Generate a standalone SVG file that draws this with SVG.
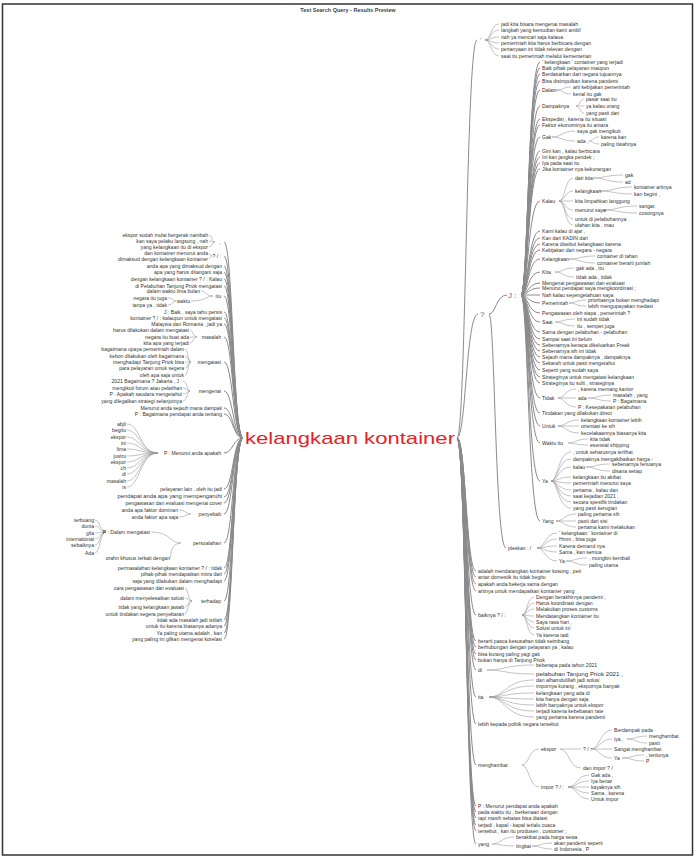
<svg xmlns="http://www.w3.org/2000/svg" width="699" height="858" viewBox="0 0 699 858">
<style>
text{font-family:"Liberation Sans",Arial,sans-serif;font-size:5.1px;fill:#333;dominant-baseline:central}
.e{text-anchor:end}
.c path{fill:none;stroke:#9a9a9a;stroke-width:0.6}
.c .r{stroke:#8a8a8a;stroke-width:1}
.root{font-size:17px;fill:#e3242b}
.q{font-size:8px;fill:#666}
.title{font-size:5.5px;font-weight:bold;fill:#444;text-anchor:middle}
</style>
<rect x="2.5" y="4" width="690" height="851" fill="#fff" stroke="#333" stroke-width="1.5"/>
<text class="title" x="348" y="10">Text Search Query - Results Preview</text>
<g class="c" id="connectors">
<path class="r" d="M457 438C466 438 466 40 477 40M457 438C466 438 466 314 478 314M457 438C466 438 466 571 476 571M457 438C466 438 466 577 476 577M457 438C466 438 466 584 476 584M457 438C466 438 466 591 476 591M457 438C466 438 466 615 476 615M457 438C466 438 466 641 476 641M457 438C466 438 466 647 476 647M457 438C466 438 466 654 476 654M457 438C466 438 466 660 476 660M457 438C466 438 466 670 476 670M457 438C466 438 466 697 476 697M457 438C466 438 466 724 476 724M457 438C466 438 466 765 476 765M457 438C466 438 466 806 476 806M457 438C466 438 466 812 476 812M457 438C466 438 466 818 476 818M457 438C466 438 466 825 476 825M457 438C466 438 466 831 476 831M457 438C466 438 466 844 476 844"/>
<path d="M485 40C491 40 491 24 499 24M485 40C491 40 491 30 499 30M485 40C491 40 491 37 499 37M485 40C491 40 491 43 499 43M485 40C491 40 491 49 499 49M485 40C491 40 491 56 499 56"/>
<path class="r" d="M489 314C496 314 496 295 507 295M489 314C495 314 495 548 506 548"/>
<path class="r" d="M521 295C528 295 528 62 540 62M521 295C528 295 528 68 540 68M521 295C528 295 528 74 540 74M521 295C528 295 528 81 540 81M521 295C528 295 528 90 540 90M521 295C528 295 528 106 540 106M521 295C528 295 528 119 540 119M521 295C528 295 528 125 540 125M521 295C528 295 528 137 540 137M521 295C528 295 528 151 540 151M521 295C528 295 528 157 540 157M521 295C528 295 528 163 540 163M521 295C528 295 528 169 540 169M521 295C528 295 528 201 540 201M521 295C528 295 528 231 540 231M521 295C528 295 528 238 540 238M521 295C528 295 528 244 540 244M521 295C528 295 528 250 540 250M521 295C528 295 528 259 540 259M521 295C528 295 528 272 540 272M521 295C528 295 528 283 540 283M521 295C528 295 528 288 540 288M521 295C528 295 528 295 540 295M521 295C528 295 528 303 540 303M521 295C528 295 528 313 540 313M521 295C528 295 528 322 540 322M521 295C528 295 528 332 540 332M521 295C528 295 528 339 540 339M521 295C528 295 528 345 540 345M521 295C528 295 528 351 540 351M521 295C528 295 528 357 540 357M521 295C528 295 528 363 540 363M521 295C528 295 528 370 540 370M521 295C528 295 528 377 540 377M521 295C528 295 528 383 540 383M521 295C528 295 528 398 540 398M521 295C528 295 528 413 540 413M521 295C528 295 528 426 540 426M521 295C528 295 528 443 540 443M521 295C528 295 528 481 540 481M521 295C528 295 528 521 540 521"/>
<path d="M557 90C563 90 563 87 571 87M557 90C563 90 563 94 571 94M576 106C580 106 580 99 584 99M576 106C580 106 580 106 584 106M576 106C580 106 580 113 584 113M552 137C562 137 562 131 575 131M552 137C562 137 562 141 575 141M589 141C593 141 593 137 599 137M589 141C593 141 593 144 599 144M559 201C565 201 565 178 573 178M559 201C565 201 565 191 573 191M559 201C565 201 565 201 573 201M559 201C565 201 565 210 573 210M559 201C565 201 565 219 573 219M559 201C565 201 565 225 573 225M593 178C606 178 606 175 623 175M593 178C606 178 606 182 623 182M599 191C614 191 614 187 632 187M599 191C614 191 614 194 632 194M603 210C618 210 618 206 637 206M603 210C618 210 618 213 637 213M569 259C580 259 580 256 595 256M569 259C580 259 580 263 595 263M555 272C563 272 563 268 574 268M555 272C563 272 563 277 574 277M569 303C576 303 576 300 586 300M569 303C576 303 576 306 586 306M555 322C563 322 563 319 575 319M555 322C563 322 563 326 575 326M558 398C565 398 565 389 576 389M558 398C565 398 565 398 576 398M558 398C565 398 565 407 576 407M588 398C598 398 598 395 611 395M588 398C598 398 598 401 611 401M558 426C566 426 566 420 579 420M558 426C566 426 566 426 579 426M558 426C566 426 566 433 579 433M568 443C576 443 576 439 588 439M568 443C576 443 576 445 588 445M551 481C558 481 558 452 571 452M551 481C558 481 558 459 571 459M551 481C558 481 558 467 571 467M551 481C558 481 558 477 571 477M551 481C558 481 558 483 571 483M551 481C558 481 558 490 571 490M551 481C558 481 558 496 571 496M551 481C558 481 558 502 571 502M551 481C558 481 558 508 571 508M586 467C596 467 596 464 610 464M586 467C596 467 596 471 610 471M556 521C564 521 564 514 576 514M556 521C564 521 564 521 576 521M556 521C564 521 564 527 576 527"/>
<path d="M537 548C545 548 545 533 557 533M537 548C545 548 545 539 557 539M537 548C545 548 545 546 557 546M537 548C545 548 545 552 557 552M537 548C545 548 545 561 557 561M566 561C575 561 575 558 587 558M566 561C575 561 575 565 587 565"/>
<path d="M522 615C527 615 527 597 534 597M522 615C527 615 527 603 534 603M522 615C527 615 527 609 534 609M522 615C527 615 527 616 534 616M522 615C527 615 527 622 534 622M522 615C527 615 527 628 534 628M522 615C527 615 527 635 534 635M487 670C505 670 505 665 534 665M487 670C505 670 505 674 534 674M489 697C505 697 505 680 534 680M489 697C505 697 505 686 534 686M489 697C505 697 505 693 534 693M489 697C505 697 505 699 534 699M489 697C505 697 505 705 534 705M489 697C505 697 505 711 534 711M489 697C505 697 505 717 534 717"/>
<path d="M522 765C529 765 529 749 539 749M522 765C529 765 529 787 539 787M560 749C569 749 569 749 581 749M560 749C569 749 569 768 581 768M591 749C600 749 600 730 612 730M591 749C600 749 600 739 612 739M591 749C600 749 600 749 612 749M591 749C600 749 600 758 612 758M627 739C636 739 636 736 647 736M627 739C636 739 636 743 647 743M622 758C632 758 632 755 644 755M622 758C632 758 632 761 644 761M568 787C577 787 577 775 589 775M568 787C577 787 577 781 589 781M568 787C577 787 577 787 589 787M568 787C577 787 577 793 589 793M568 787C577 787 577 799 589 799M492 844C501 844 501 837 514 837M492 844C501 844 501 846 514 846M532 846C541 846 541 843 552 843M532 846C541 846 541 849 552 849"/>
<path class="r" d="M243 438C233 438 233 242 224 242M243 438C233 438 233 256 224 256M243 438C233 438 233 266 224 266M243 438C233 438 233 272 224 272M243 438C233 438 233 279 224 279M243 438C233 438 233 286 224 286M243 438C233 438 233 296 224 296M243 438C233 438 233 312 224 312M243 438C233 438 233 318 224 318M243 438C233 438 233 324 224 324M243 438C233 438 233 337 224 337M243 438C233 438 233 362 224 362M243 438C233 438 233 391 224 391M243 438C233 438 233 408 224 408M243 438C233 438 233 414 224 414M243 438C233 438 233 453 224 453M243 438C233 438 233 489 224 489M243 438C233 438 233 497 224 497M243 438C233 438 233 503 224 503M243 438C233 438 233 514 224 514M243 438C233 438 233 543 224 543M243 438C233 438 233 568 224 568M243 438C233 438 233 574 224 574M243 438C233 438 233 581 224 581M243 438C233 438 233 601 224 601M243 438C233 438 233 620 224 620M243 438C233 438 233 626 224 626M243 438C233 438 233 633 224 633M243 438C233 438 233 639 224 639"/>
<path d="M215 242C212 242 212 235 209 235M215 242C212 242 212 241 209 241M215 242C212 242 212 247 209 247M212 256C210 256 210 253 209 253M212 256C210 256 210 259 209 259M213 296C206 296 206 291 201 291M213 296C206 296 206 301 191 301M176 301C173 301 173 298 168 298M176 301C173 301 173 305 168 305M197 337C193 337 193 330 190 330M197 337C193 337 193 337 190 337M197 337C193 337 193 343 190 343M191 362C188 362 188 349 185 349M191 362C188 362 188 356 185 356M191 362C188 362 188 362 185 362M191 362C188 362 188 368 185 368M191 362C188 362 188 375 185 375M190 391C187 391 187 381 183 381M190 391C187 391 187 388 183 388M190 391C187 391 187 394 183 394M190 391C187 391 187 401 183 401M158 453C140 453 140 424 127 424M158 453C140 453 140 430 127 430M158 453C140 453 140 437 127 437M158 453C140 453 140 443 127 443M158 453C140 453 140 449 127 449M158 453C140 453 140 456 127 456M158 453C140 453 140 462 127 462M158 453C140 453 140 468 127 468M158 453C140 453 140 474 127 474M158 453C140 453 140 481 127 481M158 453C140 453 140 487 127 487M191 514C186 514 186 510 179 510M191 514C186 514 186 517 179 517M181 543C170 543 170 532 151 532M181 543C170 543 170 558 171 558M106 532C100 532 100 520 95 520M106 532C100 532 100 526 95 526M106 532C100 532 100 533 95 533M106 532C100 532 100 539 95 539M106 532C100 532 100 545 95 545M106 532C100 532 100 553 95 553M192 601C188 601 188 588 185 588M192 601C188 601 188 598 185 598M192 601C188 601 188 607 185 607M192 601C188 601 188 614 185 614"/>
</g>
<g id="root"><text class="root" x="245" y="438" textLength="210" lengthAdjust="spacingAndGlyphs">kelangkaan kontainer</text></g>
<g id="right-top">
<text x="480" y="40">'</text>
<text x="501" y="24">jadi kita bisara mengenai masalah</text>
<text x="501" y="30">langkah yang kemudian kami ambil</text>
<text x="501" y="37">nah ya mencari saja kalaua</text>
<text x="501" y="43">pemerintah kita harus berbicara dengan</text>
<text x="501" y="49">pertanyaan ini tidak relevan dengan</text>
<text x="501" y="56">saat itu pemerintah melalui kementerian</text>
</g>
<g id="q"><text class="q" x="480" y="314">?</text>
<text class="q" x="508" y="295">J :</text>
<text x="508" y="548">pleskan : /</text></g>
<g id="j-children">
<text x="542" y="62">' kelangkaan ' container yang terjadi</text>
<text x="542" y="68">Baik pihak pelayaran maupun</text>
<text x="542" y="74">Berdasarkan dari negara tujuannya</text>
<text x="542" y="81">Bisa disimpulkan karena pandemi</text>
<text x="542" y="90">Dalam</text>
<text x="573" y="87">arti kebijakan pemerintah</text>
<text x="573" y="94">kenal itu gak</text>
<text x="542" y="106">Dampaknya</text>
<text x="586" y="99">pasar saat itu</text>
<text x="586" y="106">ya kalau orang</text>
<text x="586" y="113">yang pasti dari</text>
<text x="542" y="119">Ekspedisi , karena itu situasi</text>
<text x="542" y="125">Faktor ekonominya itu antara</text>
<text x="542" y="137">Gak</text>
<text x="577" y="131">saya gak mengikuti</text>
<text x="577" y="141">ada ,</text>
<text x="601" y="137">karena kan</text>
<text x="601" y="144">paling tiwahnya</text>
<text x="542" y="151">Gini kan , kalau berbicara</text>
<text x="542" y="157">Ini kan jangka pendek ;</text>
<text x="542" y="163">Iya pada saat itu</text>
<text x="542" y="169">Jika kontainer nya kekurangan</text>
<text x="542" y="201">Kalau</text>
<text x="575" y="178">dari kita</text>
<text x="625" y="175">gak</text>
<text x="625" y="182">ad</text>
<text x="575" y="191">kelangkaan</text>
<text x="634" y="187">kontainer artinya</text>
<text x="634" y="194">kan begini ,</text>
<text x="575" y="201">kita limpahkan langgung</text>
<text x="575" y="210">menurut saya</text>
<text x="639" y="206">sangat</text>
<text x="639" y="213">cosongnya</text>
<text x="575" y="219">untuk di pelabuhannya</text>
<text x="575" y="225">ulahan kita , mau</text>
<text x="542" y="231">Kami kalau di ajar ,</text>
<text x="542" y="238">Kan dari KADIN dari</text>
<text x="542" y="244">Karena disebut kelangkaan karena</text>
<text x="542" y="250">Kebijakan dari negara - negara</text>
<text x="542" y="259">Kelangkaan</text>
<text x="597" y="256">container di tahan</text>
<text x="597" y="263">container berarti jumlah</text>
<text x="542" y="272">Kita</text>
<text x="576" y="268">gak ada , itu</text>
<text x="576" y="277">tidak ada , tidak</text>
<text x="542" y="283">Mengenai pengawasan dan evaluasi</text>
<text x="542" y="288">Menurut pendapat saya mengkoordinasi ;</text>
<text x="542" y="295">Nah kalau seyengetahuan saya</text>
<text x="542" y="303">Pemerintah</text>
<text x="588" y="300">prioritasnya bukan menghadapi</text>
<text x="588" y="306">lebih mengupayakan medasi</text>
<text x="542" y="313">Pengawasan oleh siapa , pemerintah ?</text>
<text x="542" y="322">Saat</text>
<text x="577" y="319">ini sudah tidak</text>
<text x="577" y="326">itu , sempet juga</text>
<text x="542" y="332">Sama dengan pelabuhan - pelabuhan</text>
<text x="542" y="339">Sampai saat ini belum</text>
<text x="542" y="345">Sebenarnya kenapa dikeluarkan Freak</text>
<text x="542" y="351">Sebenarnya sih ini tidak</text>
<text x="542" y="357">Sejauh mana dampaknya , dampaknya</text>
<text x="542" y="363">Sekarah untuk pasti mengetahui</text>
<text x="542" y="370">Seperti yang sudah saya</text>
<text x="542" y="377">Strateginya untuk mengatasi kelangkaan</text>
<text x="542" y="383">Strateginya itu sulit , strateginya</text>
<text x="542" y="398">Tidak</text>
<text x="578" y="389">, karena memang kantor</text>
<text x="578" y="398">ada</text>
<text x="613" y="395">masalah , yang</text>
<text x="613" y="401">P : Bagaimana</text>
<text x="578" y="407">P : Kesepakatan pelabuhan</text>
<text x="542" y="413">Tindakan yang dilakukan direct</text>
<text x="542" y="426">Untuk</text>
<text x="581" y="420">kelangkaan kontainer lebih</text>
<text x="581" y="426">orientasi ke sih</text>
<text x="581" y="433">kecelakaannya biasanya kita</text>
<text x="542" y="443">Waktu itu</text>
<text x="590" y="439">kita tidak</text>
<text x="590" y="445">esensial shipping</text>
<text x="542" y="481">Ya</text>
<text x="573" y="452">, untuk seharusnya terlihat</text>
<text x="573" y="459">dampaknya mengakibatkan harga -</text>
<text x="573" y="467">kalau</text>
<text x="612" y="464">sebenarnya fenuanya</text>
<text x="612" y="471">disana setiap</text>
<text x="573" y="477">kelangkaan itu akibat</text>
<text x="573" y="483">pemerintah menurut saya</text>
<text x="573" y="490">pertama , kalau dan</text>
<text x="573" y="496">saat kejadian 2021 ,</text>
<text x="573" y="502">secara spesifik tindakan</text>
<text x="573" y="508">yang pasti kerugian</text>
<text x="542" y="521">Yang</text>
<text x="578" y="514">paling pertama sih</text>
<text x="578" y="521">pasti dari sisi</text>
<text x="578" y="527">pertama kami melakukan</text>
</g>
<g id="pleskan-children">
<text x="559" y="533">' kelangkaan ' kontainer di</text>
<text x="559" y="539">Hmm , bisa juga</text>
<text x="559" y="546">Karena demand nya</text>
<text x="559" y="552">Sama , kan semua</text>
<text x="559" y="561">Ya</text>
<text x="589" y="558">, mungkin kembali</text>
<text x="589" y="565">paling utama</text>
</g>
<g id="right-bottom">
<text x="478" y="571">adalah mendatangkan kontainer kosong , peti</text>
<text x="478" y="577">antar domestik itu tidak begitu</text>
<text x="478" y="584">apakah anda bekerja sama dengan</text>
<text x="478" y="591">artinya untuk mendapatkan kontainer yang</text>
<text x="478" y="615">baiknya ? / :</text>
<text x="536" y="597">Dengan berakhirnya pandemi ,</text>
<text x="536" y="603">Harus koordinasi dengan</text>
<text x="536" y="609">Melakukan proses customs</text>
<text x="536" y="616">Mendatangkan kontainer itu</text>
<text x="536" y="622">Saya rasa hari ,</text>
<text x="536" y="628">Solusi untuk ini</text>
<text x="536" y="635">Ya karena tadi</text>
<text x="478" y="641">berarti pasca kesusahan tidak seimbang</text>
<text x="478" y="647">berhubungan dengan pelayaran ya , kalau</text>
<text x="478" y="654">bisa kurang paling yagi gak</text>
<text x="478" y="660">bukan hanya di Tanjung Priok</text>
<text x="478" y="670">di</text>
<text x="536" y="665">beberapa pada tahun 2021</text>
<text x="536" y="673" style="font-size:6.2px">pelabuhan Tanjung Priok 2021 ,</text>
<text x="478" y="697">ita</text>
<text x="536" y="680">dan alhamdulillah jadi solusi</text>
<text x="536" y="686">impornya kurang , ekspornya banyak</text>
<text x="536" y="693">kelangkaan yang ada di</text>
<text x="536" y="699">kita hanya dengan saja</text>
<text x="536" y="705">lebih banyaknya untuk ekspor</text>
<text x="536" y="711">terjadi karena kebebasan rate</text>
<text x="536" y="717">yang pertama karena pandemi</text>
<text x="478" y="724">lebih kepada politik negara tersebut</text>
<text x="478" y="765">menghambat</text>
<text x="541" y="749">ekspor</text>
<text x="583" y="749">? / :</text>
<text x="614" y="730">Berdampak pada</text>
<text x="614" y="739">iya ,</text>
<text x="649" y="736">menghambat</text>
<text x="649" y="743">pasti</text>
<text x="614" y="749">Sangat menghambat</text>
<text x="614" y="758">Ya</text>
<text x="646" y="755">, tentunya</text>
<text x="646" y="761">P</text>
<text x="583" y="768">dan impor ? /</text>
<text x="541" y="787">impor ? / :</text>
<text x="591" y="775">Gak ada ,</text>
<text x="591" y="781">Iya benar</text>
<text x="591" y="787">kayaknya sih</text>
<text x="591" y="793">Sama , karena</text>
<text x="591" y="799">Untuk impor</text>
<text x="478" y="806">P : Menurut pendapat anda apakah</text>
<text x="478" y="812">pada waktu itu , berkenaan dengan</text>
<text x="478" y="818">tapi masih sebatas bisa diatasi</text>
<text x="478" y="825">terjadi , kapal - kapal terlalu cuaca</text>
<text x="478" y="831">tersebut , kan itu produsen , customer ;</text>
<text x="478" y="844">yang</text>
<text x="516" y="837">berakibat pada harga sewa</text>
<text x="516" y="846">tingkat</text>
<text x="554" y="843">akan pandemi seperti</text>
<text x="554" y="849">di Indonesia , P</text>
</g>
<g id="left">
<text class="e" x="221" y="242">,</text>
<text class="e" x="208" y="235">ekspor sudah mulai bergerak nambah</text>
<text class="e" x="208" y="241">kan saya pelaku langsung , nah</text>
<text class="e" x="208" y="247">yang kelangkaan itu di ekspor</text>
<text class="e" x="221" y="256">? / :</text>
<text class="e" x="208" y="253">dan kontainer menurut anda</text>
<text class="e" x="208" y="259">dimaksud dengan kelangkaan kontainer</text>
<text class="e" x="222" y="266">anda apa yang dimaksud dengan</text>
<text class="e" x="222" y="272">apa yang harus ditangani saja</text>
<text class="e" x="222" y="279">dengan kelangkaan kontainer ? / : Kalau</text>
<text class="e" x="222" y="286">di Pelabuhan Tanjung Priok mengatasi</text>
<text class="e" x="221" y="296">itu</text>
<text class="e" x="200" y="291">dalam waktu lima bulan</text>
<text class="e" x="190" y="301">waktu</text>
<text class="e" x="167" y="298">negara itu juga</text>
<text class="e" x="167" y="305">tanpa ya , tidak</text>
<text class="e" x="222" y="312">J : Baik , saya tahu persis</text>
<text class="e" x="222" y="318">kontainer ? / : kalaupun untuk mengatasi</text>
<text class="e" x="222" y="324">Malaysia dan Romania , jadi ya</text>
<text class="e" x="221" y="337">masalah</text>
<text class="e" x="189" y="330">harus dilakukan dalam mengatasi</text>
<text class="e" x="189" y="337">negara itu buat ada</text>
<text class="e" x="189" y="343">kita apa yang terjadi</text>
<text class="e" x="221" y="362">mengatasi</text>
<text class="e" x="184" y="349">bagaimana upaya pemerintah dalam</text>
<text class="e" x="184" y="356">kebon dilakukan oleh bagaimana</text>
<text class="e" x="184" y="362">menghadapi Tanjung Priok bisa</text>
<text class="e" x="184" y="368">para pelayaran untuk segera</text>
<text class="e" x="184" y="375">oleh apa saja untuk</text>
<text class="e" x="221" y="391">mengenai</text>
<text class="e" x="182" y="381">2021 Bagaimana ? Jakarta , J :</text>
<text class="e" x="182" y="388">mengikuti forum atau pelatihan</text>
<text class="e" x="182" y="394">P : Apakah saudara mengetahui</text>
<text class="e" x="182" y="401">yang dilegalkan strategi selanjutnya</text>
<text class="e" x="222" y="408">Menurut anda sejauh mana dampak</text>
<text class="e" x="222" y="414">P : Bagaimana pendapat anda tentang</text>
<text class="e" x="221" y="453">P : Menurut anda apakah</text>
<text class="e" x="126" y="424">abjil</text>
<text class="e" x="126" y="430">begitu</text>
<text class="e" x="126" y="437">ekspor</text>
<text class="e" x="126" y="443">ini</text>
<text class="e" x="126" y="449">lima</text>
<text class="e" x="126" y="456">justru</text>
<text class="e" x="126" y="462">ekspor</text>
<text class="e" x="126" y="468">ch</text>
<text class="e" x="126" y="474">di</text>
<text class="e" x="126" y="481">masalah</text>
<text class="e" x="126" y="487">is</text>
<text class="e" x="222" y="489">pelayaran lain , oleh itu jadi</text>
<text class="e" x="222" y="496" style="font-size:5.8px">pendapat anda apa yang mempengaruhi</text>
<text class="e" x="222" y="503">pengawasan dan evaluasi mengenai cover</text>
<text class="e" x="221" y="514">penyebab</text>
<text class="e" x="178" y="510">anda apa faktor dominan</text>
<text class="e" x="178" y="517">anda faktor apa saja</text>
<text class="e" x="221" y="543">persoalahan</text>
<text class="e" x="150" y="532">P : Dalam mengatasi</text>
<text class="e" x="94" y="520">terbuang</text>
<text class="e" x="94" y="526">dunia</text>
<text class="e" x="94" y="533">gila</text>
<text class="e" x="94" y="539">international</text>
<text class="e" x="94" y="545">sebaiknya</text>
<text class="e" x="94" y="553">Ada</text>
<text class="e" x="170" y="558">orahn khusus terkait dengan</text>
<text class="e" x="222" y="568">permasalahan kelangkaan kontainer ? / : tidak</text>
<text class="e" x="222" y="574">pihak-pihak mendapatkan mitra dari</text>
<text class="e" x="222" y="581">saja yang dilakukan dalam menghadapi</text>
<text class="e" x="221" y="601">terhadap</text>
<text class="e" x="184" y="588">cara pengawasan dan evaluasi</text>
<text class="e" x="184" y="598">dalam menyelesaikan solusi</text>
<text class="e" x="184" y="607">tidak yang kelangkaan jawab</text>
<text class="e" x="184" y="614">untuk tindakan segera penyebaran</text>
<text class="e" x="222" y="620">tidak ada masalah jadi istilah</text>
<text class="e" x="222" y="626">untuk itu karena biasanya adanya</text>
<text class="e" x="222" y="633">Ya paling utama adalah , kan</text>
<text class="e" x="222" y="639">yang paling ini gilkan mengenai korelasi</text>
</g>
</svg>
